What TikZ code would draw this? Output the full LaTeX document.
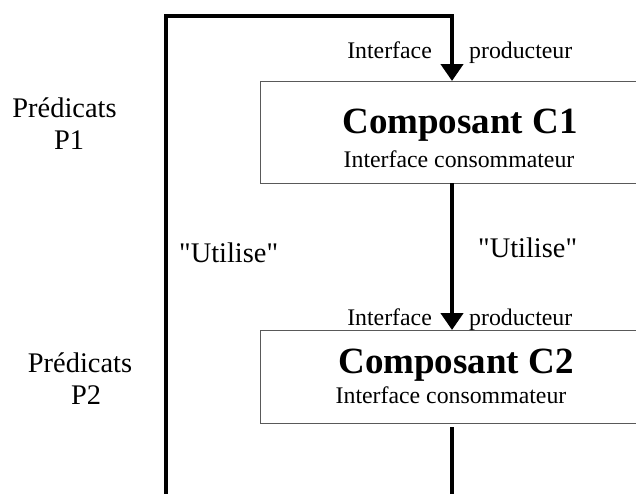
\documentclass[tikz,border=0pt]{standalone}
\usepackage{fontspec}
\setmainfont{Liberation Serif}
\newfontfamily\plainqfont{Liberation Serif}
\usetikzlibrary{arrows.meta}
\begin{document}
\begin{tikzpicture}[x=1pt,y=-1pt,
  link/.style={line width=4.5pt},
  arr/.style={link,-{Triangle[length=17pt,width=22pt]}},
  compbox/.style={draw=black!65,line width=1pt,anchor=north west,minimum width=390pt,inner sep=0pt},
  title/.style={font=\fontsize{37}{37}\selectfont\bfseries,anchor=base,inner sep=0pt},
  sub/.style={font=\fontsize{23.8}{24}\selectfont,anchor=base,inner sep=0pt},
  lab/.style={font=\fontsize{28.4}{29}\selectfont,anchor=base,inner sep=0pt},
  qlab/.style={font=\fontsize{28.4}{29}\selectfont\plainqfont,anchor=base west,inner sep=0pt},
]
\useasboundingbox (0,0) rectangle (636,493);
% boxes
\node[compbox,minimum height=102pt] (c1) at (260,81) {};
\node[compbox,minimum height=93pt] (c2) at (260,330) {};
% texts in boxes
\node[title] (t1) at (460,133) {Composant C1};
\node[sub] (s1) at (459,167) {Interface consommateur};
\node[title] (t2) at (456,373) {Composant C2};
\node[sub] (s2) at (451,403) {Interface consommateur};
% interface producteur labels
\node[sub,anchor=base east] (ip1a) at (432,58) {Interface};
\node[sub,anchor=base west] (ip1b) at (469,58) {producteur};
\node[sub,anchor=base east] (ip2a) at (432,325) {Interface};
\node[sub,anchor=base west] (ip2b) at (469,325) {producteur};
% utilise labels
\node[qlab] (u1) at (179,262) {"Utilise"};
\node[qlab] (u2) at (478,257) {"Utilise"};
% predicats
\node[lab] (p1a) at (64.5,117) {Prédicats};
\node[lab] (p1b) at (69,149) {P1};
\node[lab] (p2a) at (80,372) {Prédicats};
\node[lab] (p2b) at (86,404) {P2};
% coordinates
\coordinate (loopbot) at (166,500);
\coordinate (looptop) at (452,16);
\coordinate (c1in) at (452,81);
\coordinate (c1out) at (452,183);
\coordinate (c2in) at (452,330);
\coordinate (c2out) at (452,427);
\coordinate (bot) at (452,500);
% connectors
\draw[arr] (loopbot) |- (looptop) -- (c1in);
\draw[arr] (c1out) -- (c2in);
\draw[link] (c2out) -- (bot);
\end{tikzpicture}
\end{document}
